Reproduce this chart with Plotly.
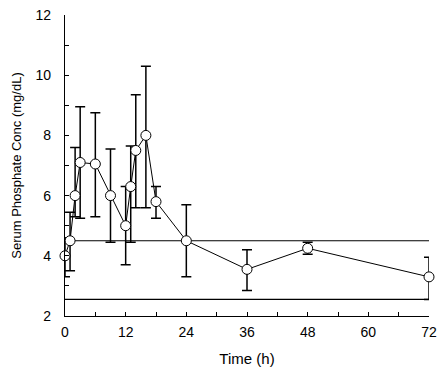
import plotly.graph_objects as go

time_h = [0, 1, 2, 3, 6, 9, 12, 13, 14, 16, 18, 24, 36, 48, 72]
conc = [4.0, 4.5, 6.0, 7.1, 7.05, 6.0, 5.0, 6.3, 7.5, 8.0, 5.8, 4.5, 3.55, 4.25, 3.3]
upper = [4.6, 5.45, 7.6, 8.95, 8.75, 7.55, 6.3, 7.65, 9.35, 10.3, 6.3, 5.7, 4.2, 4.45, 3.95]
lower = [3.3, 3.5, 5.3, 5.25, 5.3, 4.45, 3.7, 4.45, 5.6, 5.6, 5.25, 3.3, 2.85, 4.05, 2.55]
ref_high = 4.5
ref_low = 2.55

err_plus = [u - c for u, c in zip(upper, conc)]
err_minus = [c - l for c, l in zip(conc, lower)]

fig = go.Figure()
for yv in (ref_high, ref_low):
    fig.add_trace(go.Scatter(x=[0, 72], y=[yv, yv], mode="lines",
                             line=dict(color="black", width=1.2),
                             showlegend=False, hoverinfo="skip"))

fig.add_trace(go.Scatter(
    x=time_h, y=conc, mode="lines+markers",
    line=dict(color="black", width=1),
    marker=dict(symbol="circle", size=10, color="white",
                line=dict(color="black", width=1)),
    error_y=dict(type="data", array=err_plus, arrayminus=err_minus,
                 color="black", thickness=1.5, width=5, visible=True),
    showlegend=False, cliponaxis=False))

fam = "Liberation Sans, Arial, sans-serif"
font = dict(family=fam, size=14, color="black")
fig.update_layout(
    width=446, height=367,
    margin=dict(l=65, r=17, t=15, b=51),
    paper_bgcolor="white", plot_bgcolor="white",
    font=font,
    xaxis=dict(range=[0, 72], tickvals=[0, 12, 24, 36, 48, 60, 72],
               ticks="inside", ticklen=4, tickcolor="black",
               minor=dict(tickvals=[6, 18, 30, 42, 54, 66], ticks="inside", ticklen=4, tickcolor="black"),
               showline=True, linecolor="black", linewidth=1.2,
               showgrid=False, zeroline=False, automargin=False,
               ticklabelstandoff=3,
               title=dict(text="Time (h)", font=dict(family=fam, size=15, color="black"), standoff=14)),
    yaxis=dict(range=[2, 12], tickvals=[2, 4, 6, 8, 10, 12],
               ticks="inside", ticklen=4, tickcolor="black",
               minor=dict(tickvals=[3, 5, 7, 9, 11], ticks="inside", ticklen=4, tickcolor="black"),
               showline=True, linecolor="black", linewidth=1.2,
               showgrid=False, zeroline=False, automargin=False,
               ticklabelstandoff=10,
               title=dict(text="Serum Phosphate Conc (mg/dL)", font=dict(family=fam, size=13, color="black"), standoff=10)),
)
fig.write_html("out.html", config={"displayModeBar": False},
               post_script="document.body.style.margin='0';document.body.style.padding='0';")
